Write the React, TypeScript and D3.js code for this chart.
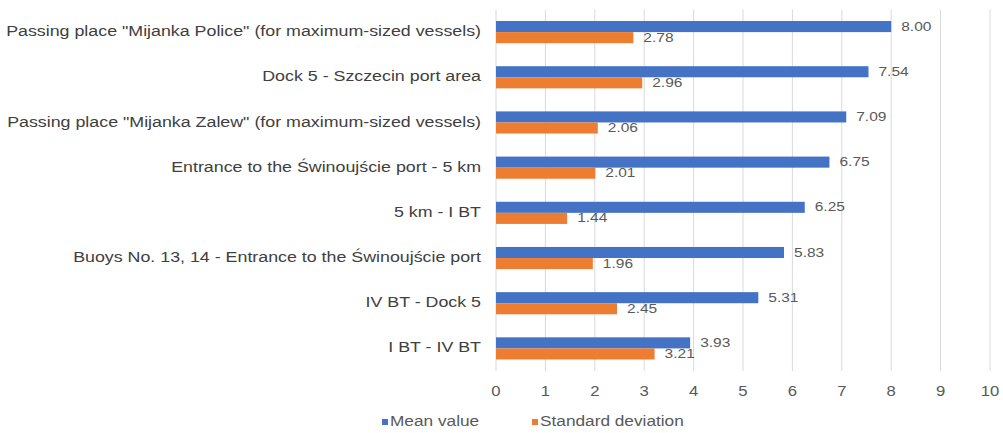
import { useEffect, useRef } from 'react';
import * as d3 from 'd3';

const categories = [
  'Passing place "Mijanka Police" (for maximum-sized vessels)',
  'Dock 5 - Szczecin port area',
  'Passing place "Mijanka Zalew" (for maximum-sized vessels)',
  'Entrance to the Świnoujście port - 5 km',
  '5 km - I BT',
  'Buoys No. 13, 14 - Entrance to the Świnoujście port',
  'IV BT - Dock 5',
  'I BT - IV BT',
];
const meanValues = [8.0, 7.54, 7.09, 6.75, 6.25, 5.83, 5.31, 3.93];
const stdValues = [2.78, 2.96, 2.06, 2.01, 1.44, 1.96, 2.45, 3.21];
const xTicks = [0, 1, 2, 3, 4, 5, 6, 7, 8, 9, 10];
const seriesNames = ['Mean value', 'Standard deviation'];

const W = 1003;
const H = 433;
const FONT = '"Liberation Sans", Arial, sans-serif';
const BLUE = '#4472C4';
const ORANGE = '#ED7D31';
const SX = 1.15; // text in the source looks a bit stretched sideways

export default function App() {
  const svgRef = useRef<SVGSVGElement>(null);

  useEffect(() => {
    const svg = d3.select(svgRef.current);
    svg.selectAll('*').remove();
    svg.attr('width', W).attr('height', H).style('font-family', FONT).style('display', 'block');

    const margin = { top: 9.5, right: 13, bottom: 62, left: 496 };
    const innerW = W - margin.left - margin.right;
    const innerH = H - margin.top - margin.bottom;

    const g = svg.append('g').attr('transform', `translate(${margin.left},${margin.top})`);

    const x = d3.scaleLinear().domain([0, 10]).range([0, innerW]);
    const y = d3.scaleBand<string>().domain(categories).range([0, innerH]).paddingInner(0.51).paddingOuter(0.255);
    const sub = d3.scaleBand<number>().domain([0, 1]).range([0, y.bandwidth()]);

    // gridlines
    g.append('g')
      .selectAll('line')
      .data(xTicks)
      .join('line')
      .attr('x1', d => x(d))
      .attr('x2', d => x(d))
      .attr('y1', 0)
      .attr('y2', innerH)
      .attr('stroke', '#D9D9D9')
      .attr('stroke-width', 1);

    // tick labels
    g.append('g')
      .selectAll('text')
      .data(xTicks)
      .join('text')
      .attr('transform', d => `translate(${x(d)},${innerH + 21}) scale(${SX},1)`)
      .attr('text-anchor', 'middle')
      .attr('dominant-baseline', 'middle')
      .attr('fill', '#595959')
      .attr('font-size', 14.5)
      .text(d => d);

    // category labels
    g.append('g')
      .selectAll('text')
      .data(categories)
      .join('text')
      .attr('transform', d => `translate(-15,${(y(d) ?? 0) + y.bandwidth() / 2}) scale(${SX},1)`)
      .attr('text-anchor', 'end')
      .attr('dominant-baseline', 'middle')
      .attr('fill', '#404040')
      .attr('font-size', 15.5)
      .text(d => d);

    const series = [
      { values: meanValues, color: BLUE },
      { values: stdValues, color: ORANGE },
    ];

    series.forEach((s, si) => {
      const rows = categories.map((c, i) => ({ c, v: s.values[i] }));
      g.append('g')
        .selectAll('rect')
        .data(rows)
        .join('rect')
        .attr('x', 0)
        .attr('y', d => (y(d.c) ?? 0) + (sub(si) ?? 0))
        .attr('width', d => x(d.v))
        .attr('height', sub.bandwidth())
        .attr('fill', s.color);

      g.append('g')
        .selectAll('text')
        .data(rows)
        .join('text')
        .attr('transform', d =>
          `translate(${x(d.v) + 10},${(y(d.c) ?? 0) + (sub(si) ?? 0) + sub.bandwidth() / 2 + 0.5}) scale(${SX},1)`)
        .attr('dominant-baseline', 'middle')
        .attr('fill', '#595959')
        .attr('font-size', 13.5)
        .text(d => d.v.toFixed(2));
    });

    // legend
    const legend = svg.append('g').attr('transform', 'translate(382,422)');
    const items = [
      { label: seriesNames[0], color: BLUE, x: 0 },
      { label: seriesNames[1], color: ORANGE, x: 150 },
    ];
    items.forEach(it => {
      const lg = legend.append('g').attr('transform', `translate(${it.x},0)`);
      lg.append('rect').attr('x', 0).attr('y', -3).attr('width', 6).attr('height', 6).attr('fill', it.color);
      lg.append('text')
        .attr('transform', `translate(8,0) scale(${SX},1)`)
        .attr('dominant-baseline', 'middle')
        .attr('fill', '#595959')
        .attr('font-size', 15)
        .text(it.label);
    });
  }, []);

  return (
    <div style={{ position: 'absolute', left: 0, top: 0, width: W, height: H, overflow: 'hidden', background: '#fff' }}>
      <svg ref={svgRef} />
    </div>
  );
}
